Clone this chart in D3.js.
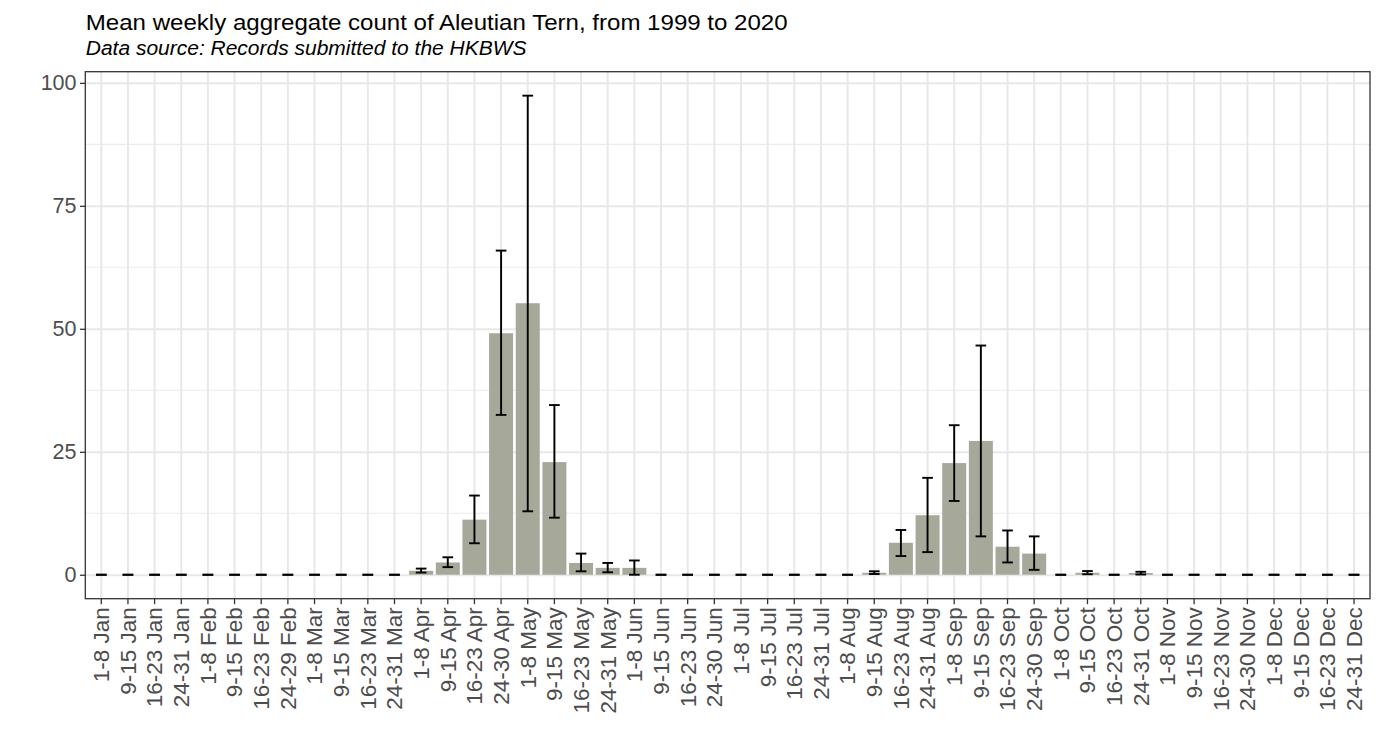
<!DOCTYPE html>
<html>
<head>
<meta charset="utf-8">
<script src="https://cdn.jsdelivr.net/npm/d3@7"></script>
<style>
  html, body { margin: 0; padding: 0; background: #fff; }
  svg { display: block; font-family: "Liberation Sans", Arial, sans-serif; }
</style>
</head>
<body>
<div id="chart"></div>
<script>
// Weekly periods (x categories)
const months = ["Jan", "Feb", "Mar", "Apr", "May", "Jun", "Jul", "Aug", "Sep", "Oct", "Nov", "Dec"];
const lastWeek = ["24-31", "24-29", "24-31", "24-30", "24-31", "24-30", "24-31", "24-31", "24-30", "24-31", "24-30", "24-31"];
const periods = months.flatMap((m, i) => ["1-8 " + m, "9-15 " + m, "16-23 " + m, lastWeek[i] + " " + m]);

// Mean weekly aggregate count
const meanCount = [
  0, 0, 0, 0,          // Jan
  0, 0, 0, 0,          // Feb
  0, 0, 0, 0,          // Mar
  0.8, 2.5, 11.2, 49.1,  // Apr
  55.2, 22.9, 2.4, 1.4,  // May
  1.4, 0, 0, 0,        // Jun
  0, 0, 0, 0,          // Jul
  0, 0.4, 6.5, 12.1,   // Aug
  22.7, 27.2, 5.7, 4.3,  // Sep
  0, 0.4, 0, 0.35,     // Oct
  0, 0, 0, 0,          // Nov
  0, 0, 0, 0           // Dec
];

// Error bar lower / upper limits
const lowerCount = [
  0, 0, 0, 0,
  0, 0, 0, 0,
  0, 0, 0, 0,
  0.45, 1.55, 6.4, 32.5,
  12.9, 11.6, 0.7, 0.5,
  0, 0, 0, 0,
  0, 0, 0, 0,
  0, 0.15, 3.8, 4.6,
  15.0, 7.8, 2.5, 1.0,
  0, 0.1, 0, 0.05,
  0, 0, 0, 0,
  0, 0, 0, 0
];
const upperCount = [
  0, 0, 0, 0,
  0, 0, 0, 0,
  0, 0, 0, 0,
  1.25, 3.55, 16.1, 65.9,
  97.4, 34.5, 4.3, 2.4,
  2.9, 0, 0, 0,
  0, 0, 0, 0,
  0, 0.7, 9.1, 19.7,
  30.4, 46.6, 9.0, 7.8,
  0, 0.75, 0, 0.6,
  0, 0, 0, 0,
  0, 0, 0, 0
];

const yTicks = [0, 25, 50, 75, 100];
const yMinorTicks = [12.5, 37.5, 62.5, 87.5];

const titleText = "Mean weekly aggregate count of Aleutian Tern, from 1999 to 2020";
const subtitleText = "Data source: Records submitted to the HKBWS";

const data = periods.map((p, i) => ({
  period: p,
  mean: meanCount[i],
  lo: lowerCount[i],
  hi: upperCount[i]
}));

const width = 1380;
const height = 751;
const margin = { top: 71.7, right: 10, bottom: 152.3, left: 85.3 };
const innerWidth = width - margin.left - margin.right;
const innerHeight = height - margin.top - margin.bottom;

const svg = d3.select("#chart").append("svg")
  .attr("width", width)
  .attr("height", height);

// Title and subtitle (slightly wide type, as in the source image)
svg.append("text")
  .attr("transform", `translate(${margin.left + 0.5},29.5) scale(1.08,1)`)
  .attr("font-size", 22.3)
  .attr("fill", "#000")
  .text(titleText);

svg.append("text")
  .attr("transform", `translate(${margin.left + 0.5},54.5) scale(1.06,1)`)
  .attr("font-size", 19.8)
  .attr("font-style", "italic")
  .attr("fill", "#000")
  .text(subtitleText);

const g = svg.append("g").attr("transform", `translate(${margin.left},${margin.top})`);

// ggplot-like discrete scale: 0.6 units expansion, bars 0.9 wide
const x = d3.scaleBand()
  .domain(periods)
  .range([0, innerWidth])
  .paddingInner(0.1)
  .paddingOuter(0.15);

const xc = (p) => x(p) + x.bandwidth() / 2;

// 5% expansion on the continuous axis
const yMax = d3.max(data, d => d.hi);
const yMin = 0;
const pad = (yMax - yMin) * 0.05;
const y = d3.scaleLinear()
  .domain([yMin - pad, yMax + pad])
  .range([innerHeight, 0]);

// Minor gridlines
g.append("g")
  .selectAll("line")
  .data(yMinorTicks)
  .join("line")
  .attr("x1", 0)
  .attr("x2", innerWidth)
  .attr("y1", d => y(d))
  .attr("y2", d => y(d))
  .attr("stroke", "#ebebeb")
  .attr("stroke-width", 1.1);

// Major gridlines
g.append("g")
  .call(d3.axisLeft(y).tickValues(yTicks).tickSize(-innerWidth).tickFormat(""))
  .call(gg => gg.select(".domain").remove())
  .call(gg => gg.selectAll("line").attr("stroke", "#e8e8e8").attr("stroke-width", 2));

g.append("g")
  .attr("transform", `translate(0,${innerHeight})`)
  .call(d3.axisBottom(x).tickSize(-innerHeight).tickFormat(""))
  .call(gg => gg.select(".domain").remove())
  .call(gg => gg.selectAll("line").attr("stroke", "#e8e8e8").attr("stroke-width", 2));

// Bars
g.append("g")
  .selectAll("rect")
  .data(data.filter(d => d.mean > 0))
  .join("rect")
  .attr("x", d => x(d.period))
  .attr("width", x.bandwidth())
  .attr("y", d => y(d.mean))
  .attr("height", d => y(0) - y(d.mean))
  .attr("fill", "#a6a899");

// Error bars (width 0.4 of a step)
const capW = x.step() * 0.4;
const eb = g.append("g")
  .attr("stroke", "#000")
  .attr("stroke-width", 1.9)
  .selectAll("g")
  .data(data)
  .join("g");

eb.append("line")
  .attr("x1", d => xc(d.period))
  .attr("x2", d => xc(d.period))
  .attr("y1", d => y(d.lo))
  .attr("y2", d => y(d.hi));

eb.append("line")
  .attr("x1", d => xc(d.period) - capW / 2)
  .attr("x2", d => xc(d.period) + capW / 2)
  .attr("y1", d => y(d.hi))
  .attr("y2", d => y(d.hi));

eb.append("line")
  .attr("x1", d => xc(d.period) - capW / 2)
  .attr("x2", d => xc(d.period) + capW / 2)
  .attr("y1", d => y(d.lo))
  .attr("y2", d => y(d.lo));

// Panel border
g.append("rect")
  .attr("x", 0)
  .attr("y", 0)
  .attr("width", innerWidth)
  .attr("height", innerHeight)
  .attr("fill", "none")
  .attr("stroke", "#333333")
  .attr("stroke-width", 1.3);

// Axes
g.append("g")
  .call(d3.axisLeft(y).tickValues(yTicks).tickSize(5.3).tickPadding(3.5))
  .call(gg => gg.select(".domain").remove())
  .call(gg => gg.selectAll("line").attr("stroke", "#333333").attr("stroke-width", 1.3))
  .call(gg => gg.selectAll("text")
    .attr("font-family", "Liberation Sans, Arial, sans-serif")
    .attr("font-size", 21.5)
    .attr("fill", "#4d4d4d"));

g.append("g")
  .attr("transform", `translate(0,${innerHeight})`)
  .call(d3.axisBottom(x).tickSize(5.5).tickPadding(3))
  .call(gg => gg.select(".domain").remove())
  .call(gg => gg.selectAll("line").attr("stroke", "#333333").attr("stroke-width", 1.3))
  .call(gg => gg.selectAll("text")
    .attr("font-family", "Liberation Sans, Arial, sans-serif")
    .attr("font-size", 22.5)
    .attr("fill", "#4d4d4d")
    .attr("text-anchor", "end")
    .attr("dy", "0.35em")
    .attr("transform", "translate(0,8.5) rotate(-90)")
    .attr("x", 0)
    .attr("y", 0));
</script>
</body>
</html>
